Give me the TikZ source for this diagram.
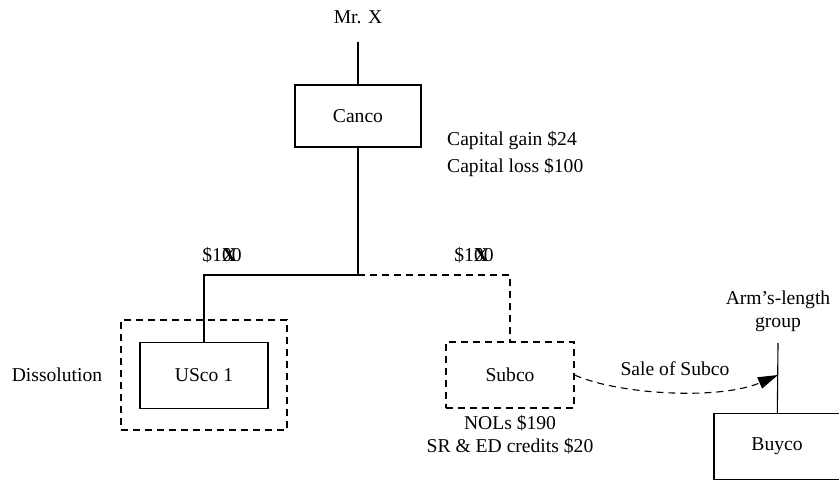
\documentclass[tikz,border=0pt]{standalone}
\usepackage{fontspec}
\setmainfont{Liberation Serif}
\usetikzlibrary{arrows,arrows.meta,positioning,shapes,calc}

\begin{document}
\begin{tikzpicture}[x=0.5pt,y=-0.5pt,line width=0.55pt,
	font=\fontsize{9.8}{11.5}\selectfont,
	>={Triangle[length=10pt,width=6pt]},
	main node/.style={rectangle,inner sep=0pt,draw,
		minimum width = 64pt, minimum height = 33pt},
	dash line/.style={dash pattern=on 3.5pt off 2.5pt}]

	\useasboundingbox (0,0) rectangle (839,481);

	\node (MrX) at (358,17) {Mr. X};
	\coordinate (MrXb) at (358,42);
	\node[main node, minimum width=63pt, minimum height=31pt] (Canco) at (358,116) {Canco};
	\node[anchor=west] (Gain) at (440,141) {Capital gain \$24};
	\node[anchor=west] (Loss) at (440,167) {Capital loss \$100};

	\coordinate (J) at (358,275);
	\coordinate (JL) at (204,275);
	\coordinate (JR) at (510,275);
	\node (PL) at (222,255) {\$1\rlap{\textbf{X}}00};
	\node (PR) at (474,255) {\$1\rlap{\textbf{X}}00};

	\node[main node] (USco) at (204,375.5) {USco 1};
	\node[rectangle, draw, dash line, minimum width=83pt, minimum height=55pt] (Diss) at (204,375) {};
	\node (DissL) at (57,375) {Dissolution};

	\node[main node, dash line] (Subco) at (510,375) {Subco};
	\node (NOL) at (510,423) {NOLs \$190};
	\node (SRED) at (510,446) {SR \& ED credits \$20};

	\node[align=center] (Arm) at (778,311) {Arm's-length\\group};
	\coordinate (ArmT) at (778,343);
	\coordinate (ArmA) at (778,375);
	\node[main node, minimum width=63pt] (Buyco) at (777,446.5) {Buyco};
	\node (Sale) at (675,369) {Sale of Subco};

	\draw (MrXb) -- (Canco);
	\draw (Canco) -- (J) -- (JL) -- (USco);
	\draw[dash line] (J) -- (JR) -- (Subco);
	\draw (ArmT) -- (Buyco);
	\draw[->, dash line] (Subco.east) .. controls (620,395) and (720,400) .. (ArmA);

\end{tikzpicture}
\end{document}
